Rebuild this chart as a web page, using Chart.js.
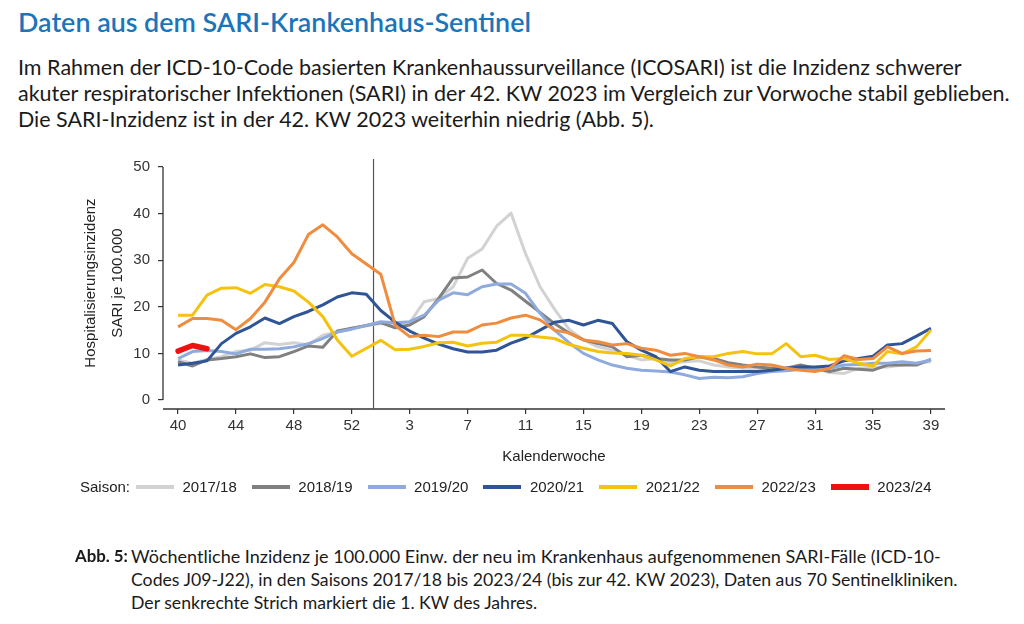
<!DOCTYPE html>
<html><head><meta charset="utf-8">
<script src="https://cdn.jsdelivr.net/npm/chart.js@4.4.0/dist/chart.umd.min.js"></script>
<style>
html,body{margin:0;padding:0;background:#fff;width:1024px;height:624px;overflow:hidden;position:relative;}
.t{position:absolute;white-space:nowrap;font-family:Lato,'Open Sans',sans-serif;color:#1a1a1a;}
.a{position:absolute;white-space:nowrap;font-family:'Liberation Sans',Arial,sans-serif;font-size:15px;color:#222;line-height:18px;}
.rot{transform:translate(-50%,-50%) rotate(-90deg);}
#c{position:absolute;left:0;top:140px;}
</style></head><body>
<div class="t" data-w="513" data-fs="26" style="left:18px;top:5px;line-height:34px;color:#1b75bb;font-weight:600;">Daten aus dem SARI-Krankenhaus-Sentinel</div>
<div class="t" data-w="944" data-fs="19.5" style="left:18px;top:55px;line-height:24px;">Im Rahmen der ICD-10-Code basierten Krankenhaussurveillance (ICOSARI) ist die Inzidenz schwerer</div>
<div class="t" data-w="992" data-fs="19.5" style="left:18px;top:81px;line-height:24px;">akuter respiratorischer Infektionen (SARI) in der 42. KW 2023 im Vergleich zur Vorwoche stabil geblieben.</div>
<div class="t" data-w="636" data-fs="19.5" style="left:18px;top:107px;line-height:24px;">Die SARI-Inzidenz ist in der 42. KW 2023 weiterhin niedrig (Abb. 5).</div>

<canvas id="c" width="1024" height="380"></canvas>

<div class="a rot" style="left:90px;top:283px;">Hospitalisierungsinzidenz</div>
<div class="a rot" style="left:117px;top:283px;">SARI je 100.000</div>
<div class="a" style="left:0;width:1108px;text-align:center;top:447px;">Kalenderwoche</div>
<div class="a" style="left:80px;top:478px;">Saison:</div>
<div id="legend"></div>

<div class="t" data-w="53" data-fs="15.5" style="left:75px;top:545px;line-height:22px;font-weight:700;">Abb. 5:</div>
<div class="t" id="cap1" data-w="810" data-fs="15.5" style="left:131px;top:545px;line-height:22px;">Wöchentliche Inzidenz je 100.000 Einw. der neu im Krankenhaus aufgenommenen SARI-Fälle (ICD-10-</div>
<div class="t" id="cap2" data-w="827" data-fs="15.5" style="left:131px;top:569px;line-height:22px;">Codes J09-J22), in den Saisons 2017/18 bis 2023/24 (bis zur 42. KW 2023), Daten aus 70 Sentinelkliniken.</div>
<div class="t" data-same="cap2" style="left:131px;top:592px;line-height:22px;">Der senkrechte Strich markiert die 1. KW des Jahres.</div>

<script>
// ---- data ----
const weekLabels = [40,41,42,43,44,45,46,47,48,49,50,51,52,53,1,2,3,4,5,6,7,8,9,10,11,12,13,14,15,16,17,18,19,20,21,22,23,24,25,26,27,28,29,30,31,32,33,34,35,36,37,38,39];
const xTickWeeks = [40,44,48,52,3,7,11,15,19,23,27,31,35,39];
const yTicks = [0,10,20,30,40,50];
const seasons = ['2017/18','2018/19','2019/20','2020/21','2021/22','2022/23','2023/24'];

const s2017_18 = [8.6,7.9,8.7,9.3,10.4,10.7,12.3,11.9,12.3,11.8,13.9,14.6,15.4,null,16.4,16.3,16.6,21.1,21.8,24.3,30.4,32.4,37.3,40.1,31.4,24.3,19.5,15.2,12.9,11.4,10.7,9.6,8.6,8.9,8.0,8.2,8.4,7.5,7.1,6.8,6.8,6.8,6.4,6.6,6.8,5.9,5.7,6.8,7.1,7.1,7.5,7.9,8.2];
const s2018_19 = [8.2,7.3,8.6,8.9,9.3,9.9,9.1,9.3,10.4,11.6,11.3,14.8,15.4,null,16.6,15.5,16.1,17.9,21.8,26.2,26.4,27.9,25.0,23.6,21.2,18.8,16.4,14.4,12.9,12.1,11.4,9.3,9.6,8.9,8.6,8.6,9.3,8.9,8.0,7.5,7.1,6.8,6.8,7.5,6.8,6.1,6.8,6.6,6.4,7.5,7.5,7.5,8.7];
const s2019_20 = [8.9,10.4,10.6,10.4,9.9,10.9,10.9,11.0,11.4,12.1,13.2,14.6,15.2,null,16.8,16.6,16.8,18.2,21.4,23.0,22.6,24.3,24.9,24.9,22.9,18.6,15.0,12.3,10.0,8.6,7.5,6.8,6.4,6.2,6.0,5.4,4.6,4.9,4.8,5.0,5.7,6.1,6.3,6.6,6.8,6.8,7.5,7.6,7.9,7.9,8.2,7.9,8.6];
const s2020_21 = [7.5,7.9,8.4,12.1,14.3,15.7,17.6,16.4,17.9,19.0,20.4,22.1,23.0,22.7,19.2,16.7,14.8,13.3,12.0,11.0,10.3,10.3,10.7,12.2,13.3,15.0,16.7,17.1,16.1,17.1,16.4,12.5,10.7,9.3,6.1,7.1,6.4,6.1,6.1,6.1,6.1,6.4,6.8,7.1,7.1,7.3,8.4,8.9,9.4,11.8,12.1,13.7,15.4];
const s2021_22 = [18.2,18.2,22.5,24.0,24.1,22.9,24.8,24.3,23.4,21.0,17.9,12.9,9.4,null,12.8,10.8,10.9,11.5,12.3,12.4,11.6,12.2,12.4,13.9,13.9,13.5,13.2,11.9,11.1,10.4,10.1,10.0,9.6,8.6,7.3,8.9,9.3,9.3,10.0,10.4,9.9,9.9,12.1,9.3,9.6,8.7,8.9,7.9,7.3,10.4,9.9,11.4,15.0];
const s2022_23 = [15.7,17.5,17.5,17.1,15.1,17.5,21.0,26.0,29.5,35.5,37.6,35.0,31.4,null,27.0,16.0,13.6,13.9,13.6,14.6,14.6,16.1,16.5,17.6,18.2,17.2,15.0,14.4,12.9,12.5,11.8,12.1,11.1,10.7,9.6,10.0,9.3,8.6,7.5,7.1,7.7,7.5,6.8,6.4,6.1,6.8,9.5,8.7,8.9,11.4,10.0,10.5,10.6];
const s2023_24 = [10.5,11.7,11.0];

const seriesValues = [s2017_18,s2018_19,s2019_20,s2020_21,s2021_22,s2022_23,s2023_24];
const seriesColors = ['#d2d2d2','#808080','#8faadc','#2f5597','#f5c20f','#f08c3e','#ee1111'];
const seriesWidths = [3,3,3,3,3,3,5.5];

// ---- legend ----
const leg = document.getElementById('legend');
seasons.forEach((s,k) => {
  const x = 136 + k*115.8;
  const ln = document.createElement('div');
  ln.style.cssText = `position:absolute;left:${x}px;top:${487 - seriesWidths[k]/2 - 0.5}px;width:38px;height:${seriesWidths[k]+1}px;background:${seriesColors[k]};`;
  leg.appendChild(ln);
  const lb = document.createElement('div');
  lb.className = 'a';
  lb.style.left = (x + 46.5) + 'px';
  lb.style.top = '478px';
  lb.textContent = s;
  leg.appendChild(lb);
});

// ---- text fitting ----
function fitText(){
  document.querySelectorAll('[data-w]').forEach(el => {
    const fs = parseFloat(el.dataset.fs);
    el.style.fontSize = fs + 'px';
    const w = el.getBoundingClientRect().width;
    el.style.fontSize = (fs * (+el.dataset.w) / w).toFixed(2) + 'px';
  });
  document.querySelectorAll('[data-same]').forEach(el => {
    el.style.fontSize = document.getElementById(el.dataset.same).style.fontSize;
  });
}
fitText();
if (document.fonts && document.fonts.ready) document.fonts.ready.then(fitText);

// ---- chart ----
const tickIdx = xTickWeeks.map(w => weekLabels.indexOf(w));
const yearStart = weekLabels.indexOf(1);

const axesPlugin = {
  id: 'axesLines',
  beforeDatasetsDraw(chart) {
    const {ctx, chartArea: a, scales: {x, y}} = chart;
    ctx.save();
    ctx.strokeStyle = '#333';
    ctx.lineWidth = 1.3;
    ctx.beginPath();
    ctx.moveTo(a.left, y.getPixelForValue(yTicks[yTicks.length-1]));
    ctx.lineTo(a.left, y.getPixelForValue(yTicks[0]));
    ctx.stroke();
    ctx.beginPath();
    ctx.moveTo(a.left, a.bottom);
    ctx.lineTo(a.right, a.bottom);
    ctx.stroke();
    const xm = x.getPixelForValue(yearStart - 0.5);
    ctx.strokeStyle = '#555';
    ctx.lineWidth = 1.2;
    ctx.beginPath();
    ctx.moveTo(xm, a.top - 8);
    ctx.lineTo(xm, a.bottom);
    ctx.stroke();
    ctx.restore();
  }
};

const tickFont = {family: "'Liberation Sans', Arial, sans-serif", size: 15};

new Chart(document.getElementById('c'), {
  type: 'line',
  data: {
    datasets: seasons.map((s,k) => ({
      label: s,
      data: seriesValues[k].map((v,i) => ({x: i, y: v})),
      borderColor: seriesColors[k],
      backgroundColor: seriesColors[k],
      borderWidth: seriesWidths[k],
      pointRadius: 0,
      tension: 0,
      spanGaps: true,
      borderJoinStyle: 'round',
      borderCapStyle: k === seasons.length-1 ? 'round' : 'butt',
      order: seasons.length - k
    }))
  },
  options: {
    responsive: false,
    animation: false,
    devicePixelRatio: 1,
    layout: {padding: {left: 0, right: 79, top: 27, bottom: 0}},
    plugins: {legend: {display: false}, tooltip: {enabled: false}},
    scales: {
      x: {
        type: 'linear',
        bounds: 'data',
        min: -1.04, max: 52.97,
        afterFit: s => { s.height = 111; },
        afterBuildTicks: s => { s.ticks = tickIdx.map(v => ({value: v})); },
        grid: {display: true, drawOnChartArea: false, drawTicks: true, tickLength: 5, color: '#333', lineWidth: 1.2},
        border: {display: false},
        ticks: {font: tickFont, color: '#333', padding: 3, autoSkip: false, maxRotation: 0,
                callback: v => String(weekLabels[v])}
      },
      y: {
        type: 'linear',
        bounds: 'data',
        min: -1.93, max: 50,
        afterFit: s => { s.width = 163; },
        afterBuildTicks: s => { s.ticks = yTicks.map(v => ({value: v})); },
        grid: {display: true, drawOnChartArea: false, drawTicks: true, tickLength: 5, color: '#333', lineWidth: 1.2},
        border: {display: false},
        ticks: {font: tickFont, color: '#333', padding: 8}
      }
    }
  },
  plugins: [axesPlugin]
});
</script>
</body></html>
